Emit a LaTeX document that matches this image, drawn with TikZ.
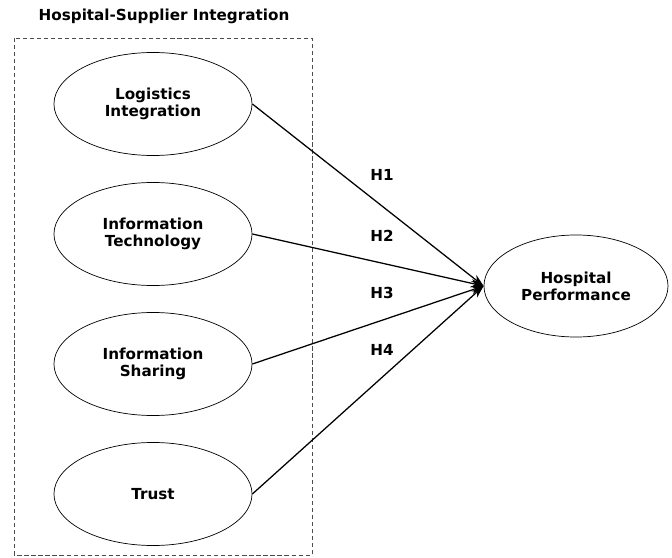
\documentclass[tikz,border=0pt]{standalone}
\usepackage{fontspec}
\setmainfont{DejaVu Sans}
\usetikzlibrary{shapes.geometric,arrows.meta}
\begin{document}
\begin{tikzpicture}[
    x=0.025cm, y=-0.025cm,
    construct/.style={draw, ellipse, line width=0.5pt, minimum width=4.95cm, minimum height=2.575cm, align=center, font=\bfseries\fontsize{10.8}{12.2}\selectfont},
    hyp/.style={font=\bfseries\fontsize{10.8}{12.2}\selectfont},
    arrow/.style={-{Stealth[length=9pt,width=6pt]}, line width=0.9pt}
]
\useasboundingbox (0,0) rectangle (672,558);

% Integration group
\node[hyp] (title) at (164,16) {Hospital-Supplier Integration};
\draw[densely dashed, line width=0.4pt, black!70] (14,38) rectangle (312,555);

% Dimensions
\node[construct] (logint) at (153,104) {Logistics\\Integration};
\node[construct] (infotech) at (153,234) {Information\\Technology};
\node[construct] (infoshare) at (153,364) {Information\\Sharing};
\node[construct] (trust) at (153,494) {Trust};

% Outcome
\node[construct, minimum width=4.6cm, minimum height=2.55cm] (perf) at (576,286) {Hospital\\Performance};

% Hypotheses
\draw[arrow] (logint.east) -- (perf.west);
\draw[arrow] (infotech.east) -- (perf.west);
\draw[arrow] (infoshare.east) -- (perf.west);
\draw[arrow] (trust.east) -- (perf.west);

\node[hyp] (h1) at (382,175) {H1};
\node[hyp] (h2) at (382,236) {H2};
\node[hyp] (h3) at (382,293) {H3};
\node[hyp] (h4) at (382,350) {H4};
\end{tikzpicture}
\end{document}
